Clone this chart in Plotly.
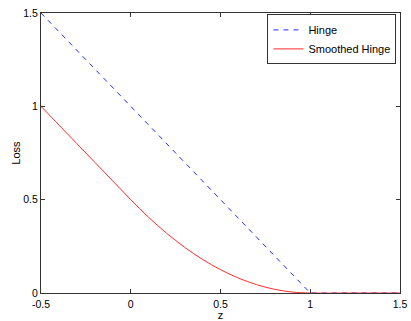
import plotly.graph_objects as go

# Hinge loss
hinge_z = [-0.5, 1.0, 1.5]
hinge_loss = [1.5, 0.0, 0.0]

# Smoothed hinge loss
smooth_z = [-0.5, -0.4, -0.3, -0.2, -0.1, 0.0, 0.1, 0.2, 0.3, 0.4, 0.5,
            0.6, 0.7, 0.8, 0.9, 1.0, 1.25, 1.5]
smooth_loss = [1.0, 0.9, 0.8, 0.7, 0.6, 0.5, 0.405, 0.32, 0.245, 0.18, 0.125,
               0.08, 0.045, 0.02, 0.005, 0.0, 0.0, 0.0]

x_ticks = [-0.5, 0, 0.5, 1, 1.5]
y_ticks = [0, 0.5, 1, 1.5]

fig = go.Figure()
fig.add_trace(go.Scatter(x=hinge_z, y=hinge_loss, mode="lines", name="Hinge",
                         line=dict(color="#2a2aff", width=1, dash="5px,5px")))
fig.add_trace(go.Scatter(x=smooth_z, y=smooth_loss, mode="lines", name="Smoothed Hinge",
                         line=dict(color="#ff2a2a", width=1, shape="spline")))

axis_common = dict(showgrid=False, zeroline=False, showline=True, linecolor="#333333",
                   linewidth=1, mirror="ticks", ticks="inside", ticklen=4,
                   tickcolor="#333333", tickfont=dict(size=10.5, color="#000000"),
                   automargin=False)

fig.update_layout(
    width=411, height=321,
    margin=dict(l=41, r=11, t=13, b=28),
    paper_bgcolor="white", plot_bgcolor="white",
    font=dict(family="Liberation Sans, Arial, sans-serif", size=11, color="#000000"),
    xaxis=dict(range=[-0.5, 1.5], tickvals=x_ticks, ticktext=[str(v) for v in x_ticks],
               ticklabelstandoff=1,
               title=dict(text="z", standoff=2, font=dict(size=11)), **axis_common),
    yaxis=dict(range=[0, 1.5], tickvals=y_ticks, ticktext=[str(v) for v in y_ticks],
               title=dict(text="Loss", standoff=0, font=dict(size=11)), **axis_common),
    legend=dict(x=0.99, y=0.995, xanchor="right", yanchor="top",
                bgcolor="white", bordercolor="#333333", borderwidth=1,
                font=dict(size=11), tracegroupgap=0, itemwidth=30),
    showlegend=True,
)

fig.write_html("out.html", config={"displayModeBar": False},
               post_script="document.body.style.margin='0';document.body.style.overflow='hidden';")
